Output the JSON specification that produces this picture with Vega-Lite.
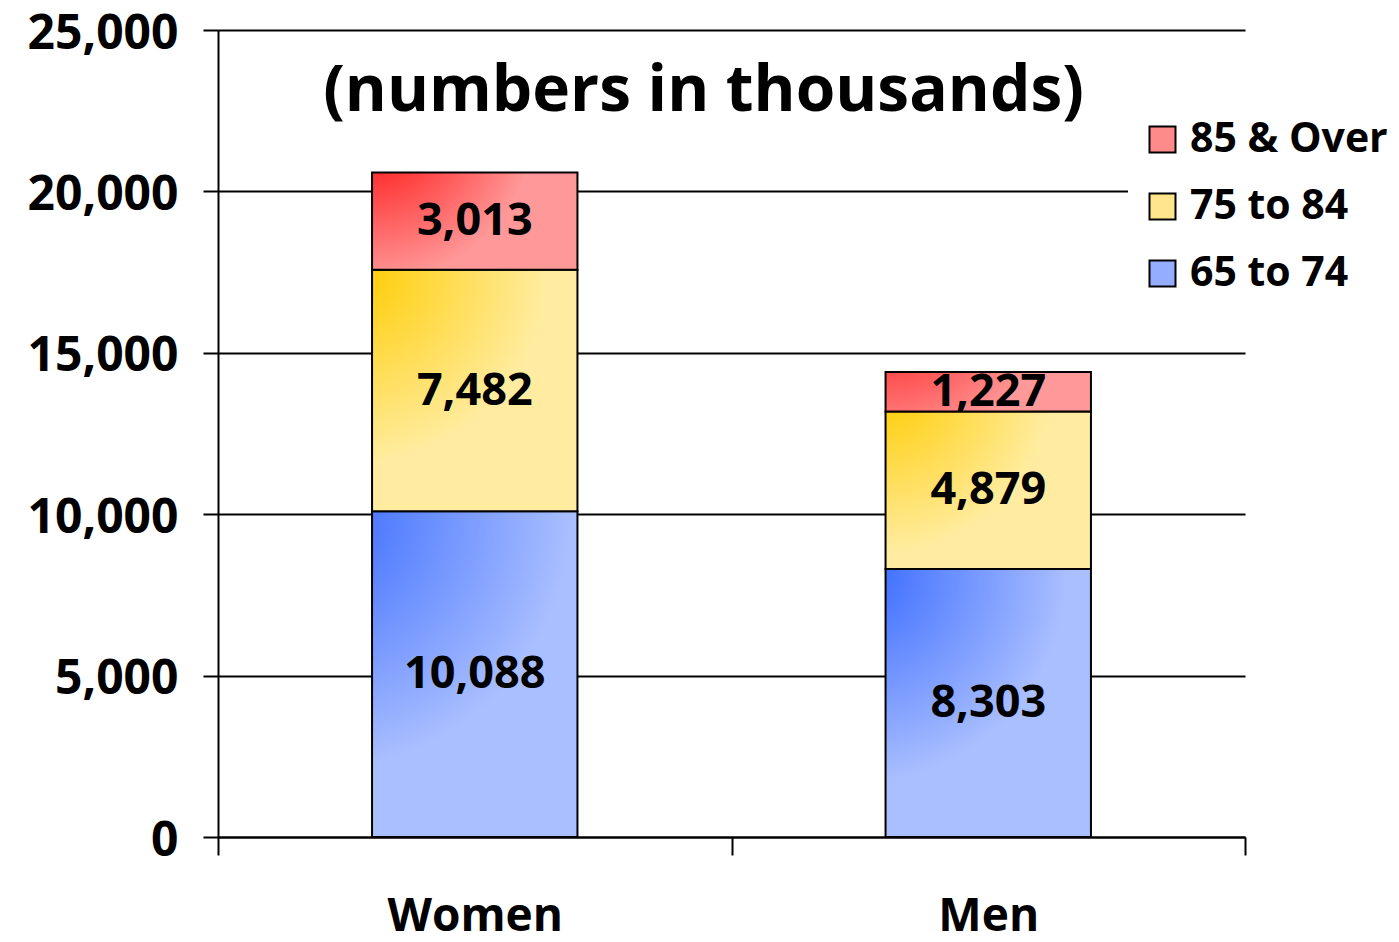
{
  "$schema": "https://vega.github.io/schema/vega-lite/v6.json",
  "autosize": "none",
  "width": 1027,
  "height": 807,
  "padding": {"left": 218, "top": 30, "right": 154, "bottom": 105},
  "background": "white",
  "title": {
    "text": "(numbers in thousands)",
    "font": "Open Sans",
    "fontWeight": "bold",
    "fontSize": 64,
    "color": "black",
    "anchor": "middle",
    "frame": "group",
    "baseline": "alphabetic",
    "offset": -165,
    "dx": -28
  },
  "config": {
    "view": {"stroke": null},
    "font": "Open Sans"
  },
  "data": {
    "values": [
      {"sex": "Women", "age": "65 to 74", "k": 1, "value": 10088},
      {"sex": "Women", "age": "75 to 84", "k": 2, "value": 7482},
      {"sex": "Women", "age": "85 & Over", "k": 3, "value": 3013},
      {"sex": "Men", "age": "65 to 74", "k": 1, "value": 8303},
      {"sex": "Men", "age": "75 to 84", "k": 2, "value": 4879},
      {"sex": "Men", "age": "85 & Over", "k": 3, "value": 1227}
    ]
  },
  "transform": [
    {"stack": "value", "groupby": ["sex"], "sort": [{"field": "k", "order": "ascending"}], "as": ["v0", "v1"]}
  ],
  "encoding": {
    "x": {
      "field": "sex",
      "type": "nominal",
      "sort": ["Women", "Men"],
      "scale": {"paddingInner": 0, "paddingOuter": 0},
      "axis": {
        "title": null,
        "labelAngle": 0,
        "labelFont": "Open Sans",
        "labelFontWeight": "bold",
        "labelFontSize": 46,
        "labelColor": "black",
        "labelPadding": 39,
        "labelLimit": 400,
        "tickBand": "extent",
        "tickColor": "black",
        "tickWidth": 2,
        "tickSize": 18,
        "domainColor": "black",
        "domainWidth": 2,
        "grid": false
      }
    },
    "y": {
      "field": "v0",
      "type": "quantitative",
      "scale": {"domain": [0, 25000], "nice": false},
      "axis": {
        "title": null,
        "values": [0, 5000, 10000, 15000, 20000, 25000],
        "format": ",.0f",
        "labelFont": "Open Sans",
        "labelFontWeight": "bold",
        "labelFontSize": 48,
        "labelColor": "black",
        "labelPadding": 25,
        "labelOffset": 4,
        "tickColor": "black",
        "tickWidth": 2,
        "tickSize": 15,
        "domainColor": "black",
        "domainWidth": 2,
        "grid": true,
        "gridColor": "black",
        "gridWidth": 2,
        "gridOpacity": 1
      }
    }
  },
  "layer": [
    {
      "mark": {"type": "square", "filled": true, "opacity": 0, "stroke": "black", "strokeWidth": 2, "size": 676},
      "encoding": {
        "color": {
          "field": "age",
          "type": "nominal",
          "scale": {
            "domain": ["85 & Over", "75 to 84", "65 to 74"],
            "range": ["#ff8a8a", "#ffe68c", "#94adff"]
          },
          "legend": {
            "title": null,
            "orient": "none",
            "legendX": 910,
            "legendY": 75,
            "padding": 14,
            "fillColor": "white",
            "symbolType": "square",
            "symbolSize": 676,
            "symbolOpacity": 1,
            "symbolStrokeColor": "black",
            "symbolStrokeWidth": 2,
            "labelFont": "Open Sans",
            "labelFontWeight": "bold",
            "labelFontSize": 41,
            "labelColor": "black",
            "labelOffset": 7,
            "rowPadding": 25,
            "labelLimit": 400
          }
        }
      }
    },
    {
      "mark": {"type": "bar", "stroke": "black", "strokeWidth": 2, "width": {"band": 0.4}},
      "encoding": {
        "y2": {"field": "v1"},
        "fill": {
          "condition": [
            {"test": "datum.age === '85 & Over'", "value": {"gradient": "radial", "x1": 0, "y1": 0, "r1": 0, "x2": 0, "y2": 0, "r2": 1, "stops": [{"offset": 0, "color": "#ff0000"}, {"offset": 0.8, "color": "#ff9999"}, {"offset": 1, "color": "#ff9999"}]}},
            {"test": "datum.age === '75 to 84'", "value": {"gradient": "radial", "x1": 0, "y1": 0, "r1": 0, "x2": 0, "y2": 0, "r2": 1, "stops": [{"offset": 0, "color": "#ffcc00"}, {"offset": 0.8, "color": "#ffeca0"}, {"offset": 1, "color": "#ffeca0"}]}}
          ],
          "value": {"gradient": "radial", "x1": 0, "y1": 0, "r1": 0, "x2": 0, "y2": 0, "r2": 1, "stops": [{"offset": 0, "color": "#3366ff"}, {"offset": 0.8, "color": "#aabfff"}, {"offset": 1, "color": "#aabfff"}]}
        }
      }
    },
    {
      "mark": {
        "type": "text",
        "font": "Open Sans",
        "fontWeight": "bold",
        "fontSize": 45,
        "color": "black",
        "align": "center",
        "baseline": "middle",
        "dy": {"expr": "(scale('y', datum.v1) - scale('y', datum.v0)) / 2"}
      },
      "encoding": {
        "text": {"field": "value", "type": "quantitative", "format": ","}
      }
    }
  ]
}
